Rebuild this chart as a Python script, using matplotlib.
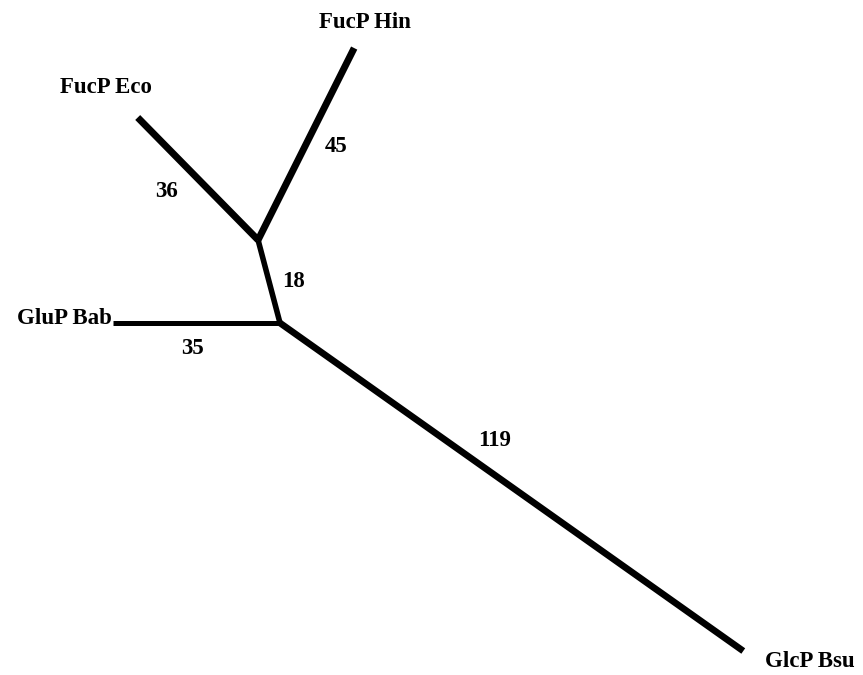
import numpy as np
import matplotlib
matplotlib.use("Agg")
import matplotlib.pyplot as plt

# Unrooted tree: branch lengths as printed on the figure
taxa = ["FucP Eco", "FucP Hin", "GluP Bab", "GlcP Bsu"]
eco_len, hin_len, inner_len, bab_len, bsu_len = 36, 45, 18, 35, 119
branch_labels = ["36", "45", "18", "35", "119"]

# drawing directions (degrees) of each branch
inner_ang = 104.8
eco_ang, hin_ang = 134.5, 63.4
bab_ang, bsu_ang = 180.0, -35.3

plt.rcParams["font.family"] = ["Liberation Serif", "DejaVu Serif"]


def step(p, length, ang):
    a = np.radians(ang)
    return p + length * np.array([np.cos(a), np.sin(a)])


node_b = np.array([0.0, 0.0])
node_a = step(node_b, inner_len, inner_ang)
eco = step(node_a, eco_len, eco_ang)
hin = step(node_a, hin_len, hin_ang)
bab = step(node_b, bab_len, bab_ang)
bsu = step(node_b, bsu_len, bsu_ang)

branches = [
    (node_a, eco, 5.0),
    (node_a, hin, 5.0),
    (node_b, node_a, 4.0),
    (node_b, bab, 3.6),
    (node_b, bsu, 4.8),
]

fig = plt.figure(figsize=(8.63, 6.75), dpi=100)
ax = fig.add_axes([0, 0, 1, 1])

for p, q, lw in branches:
    ax.plot([p[0], q[0]], [p[1], q[1]], color="black", lw=lw,
            solid_capstyle="butt", solid_joinstyle="round")

# taxon labels (offsets in pixels)
leaf_pos = [
    (eco, (-32, 30), "center"),
    (hin, (11, 26), "center"),
    (bab, (-1, 4), "right"),
    (bsu, (22, -10), "left"),
]
for name, (p, off, ha) in zip(taxa, leaf_pos):
    ax.annotate(name, xy=p, xytext=off, textcoords="offset pixels",
                ha=ha, va="center", fontsize=16.5, fontweight="bold")

# branch length labels, placed from branch midpoints
num_off = [(-31, -13), (30, -2), (24, 0), (-4, -26), (-17, 47)]
for (p, q, _), lab, off in zip(branches, branch_labels, num_off):
    mid = (p + q) / 2
    ax.annotate(lab, xy=mid, xytext=off, textcoords="offset pixels",
                ha="center", va="center", fontsize=16.5, fontweight="bold")

scale = 4.77
ax.set_xlim(-280 / scale, (863 - 280) / scale)
ax.set_ylim((323 - 675) / scale, 323 / scale)
ax.axis("off")

fig.savefig("out.png", dpi=100)
